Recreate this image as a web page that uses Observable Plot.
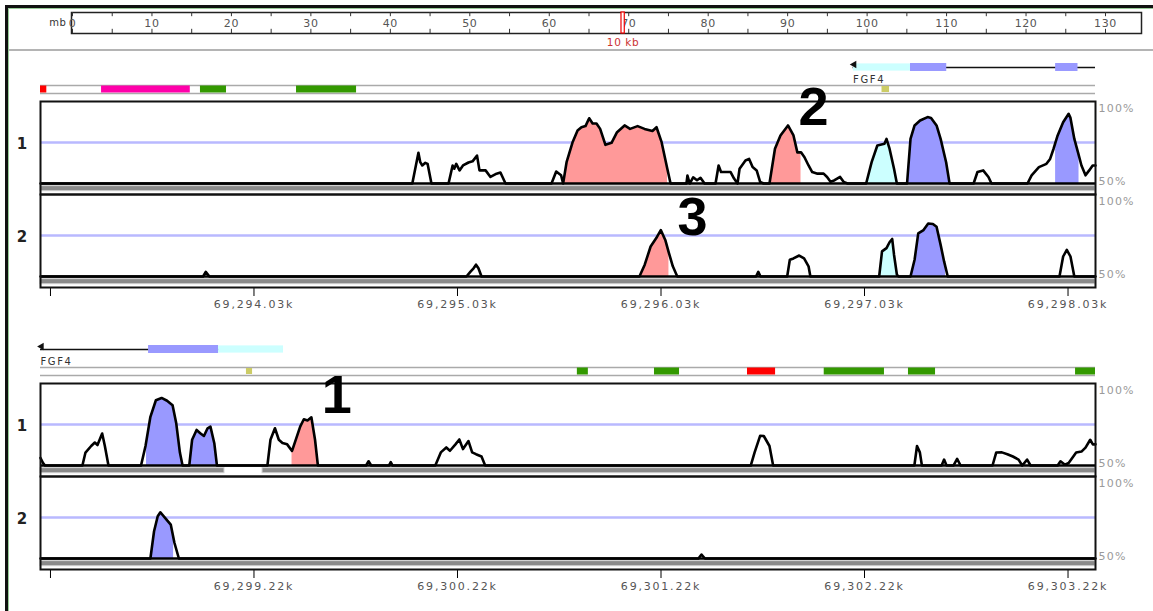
<!DOCTYPE html>
<html><head><meta charset="utf-8">
<script src="https://cdn.jsdelivr.net/npm/d3@7"></script>
<script src="https://cdn.jsdelivr.net/npm/@observablehq/plot@0.6"></script>
<style>
body{margin:0;background:#fff;}
#root{position:relative;width:1153px;height:611px;overflow:hidden;background:#fff;}
.bl{position:absolute;}
g[aria-label="x-axis tick"]{stroke:#666;}
g[aria-label="x-axis tick label"]{fill:#555;font-size:11px;letter-spacing:1.8px;}
</style></head><body><div id="root"></div>
<script>
// ---------- data ----------
const rulerMajor = [0,10,20,30,40,50,60,70,80,90,100,110,120,130];
const rulerMinor = [5,15,25,35,45,55,65,75,85,95,105,115,125];
const rulerMarkMb = 69.29;
const rulerMarkLabel = "10 kb";
const rulerUnit = "mb";

const sectionStart = [69292.981, 69298.171];   // kb at left edge of each window
const sectionSpan = 5.184;                       // kb shown per window
const axisTicks = [
  [69293.03, 69294.03, 69295.03, 69296.03, 69297.03, 69298.03],
  [69298.22, 69299.22, 69300.22, 69301.22, 69302.22, 69303.22]
];
const trackNames = ["1", "2"];
const pctLabels = [100, 50];

const geneName = "FGF4";
const geneSpan = [[3.993, 5.184], [0, 1.194]];   // kb offsets
const geneParts1 = [[3.995, 4.275, "utr"], [4.275, 4.453, "cds"], [4.988, 5.098, "cds"]];
const geneParts2 = [[0.531, 0.875, "cds"], [0.875, 1.194, "utr"]];

const bar1 = [[0, 0.031, "A"], [0.300, 0.736, "B"], [0.786, 0.914, "C"], [1.258, 1.553, "C"], [4.135, 4.172, "D"]];
const bar2 = [[1.012, 1.042, "D"], [2.638, 2.692, "C"], [3.017, 3.140, "C"], [3.474, 3.612, "A"], [3.851, 4.147, "C"], [4.265, 4.398, "C"], [5.086, 5.184, "C"]];

// conservation curves: [kb offset, % identity]
const s1t1 = [[0,50],[1.827,50],[1.857,68.7],[1.866,63],[1.876,61],[1.891,62.6],[1.902,62],[1.921,50],
[2.005,50],[2.025,61],[2.033,59],[2.043,62],[2.059,58],[2.076,61],[2.103,62.8],[2.123,63.5],[2.145,67],[2.157,58],[2.187,58],[2.211,54],[2.241,56],[2.260,56.7],[2.285,50],
[2.511,50],[2.534,57.3],[2.558,55],[2.568,50],[2.585,63],[2.614,75],[2.639,82.3],[2.658,84.3],[2.678,85],[2.696,89.8],[2.713,86.6],[2.732,86.6],[2.750,83.3],[2.776,73.6],[2.806,74.8],[2.833,81.3],[2.870,85.4],[2.897,83.3],[2.934,85],[2.968,83.3],[3.007,82],[3.027,84.3],[3.052,75.2],[3.080,59],[3.096,50],
[3.174,50],[3.179,54.9],[3.190,50],[3.207,53.8],[3.226,52],[3.243,53.5],[3.263,50],
[3.317,50],[3.332,61],[3.344,57],[3.363,57],[3.391,57],[3.408,53],[3.425,50],[3.435,59],[3.464,64],[3.482,65],[3.499,60],[3.519,58],[3.536,51],[3.553,50],
[3.582,50],[3.609,71.2],[3.636,79.3],[3.673,85.4],[3.700,79.3],[3.719,69],[3.737,69],[3.754,66],[3.774,61],[3.792,57],[3.818,56],[3.848,56],[3.865,54],[3.882,51],[3.902,52],[3.929,54],[3.946,51],[3.966,50],
[4.057,50],[4.084,63],[4.112,73.2],[4.147,74.2],[4.157,77.2],[4.172,71.2],[4.194,59],[4.208,50],
[4.258,50],[4.275,77.2],[4.295,85.4],[4.322,88.4],[4.359,90.5],[4.376,90],[4.403,85.4],[4.423,77.2],[4.450,63],[4.467,50],
[4.585,50],[4.604,57],[4.632,58],[4.658,54],[4.673,50],
[4.850,50],[4.870,55],[4.906,60],[4.943,62],[4.961,65],[4.978,71.2],[4.998,79.3],[5.025,87.4],[5.052,92.5],[5.061,90],[5.080,77.2],[5.098,69],[5.115,61],[5.135,55],[5.153,58],[5.170,61],[5.184,61]];
const s1t2 = [[0,50],[0.799,50],[0.812,52.8],[0.830,50],
[2.093,50],[2.113,53],[2.128,55],[2.140,57.2],[2.152,55],[2.167,50],
[2.943,50],[2.969,57.2],[2.998,68.3],[3.025,73.3],[3.048,78.3],[3.070,72.3],[3.088,64.3],[3.107,56.2],[3.129,50],
[3.516,50],[3.527,52.8],[3.538,50],
[3.669,50],[3.682,60.2],[3.700,61],[3.728,62.8],[3.752,61],[3.774,56.2],[3.783,50],
[4.121,50],[4.135,65.3],[4.157,67.3],[4.172,70.9],[4.185,72.9],[4.194,63.3],[4.208,51.2],[4.216,50],
[4.275,50],[4.295,60.2],[4.313,76.3],[4.339,78.3],[4.362,82.3],[4.385,82],[4.403,80.3],[4.423,69.3],[4.440,59.2],[4.458,50],
[5.007,50],[5.025,62.2],[5.043,66.3],[5.061,62.2],[5.080,50],[5.184,50]];
const s2t1 = [[0,54.6],[0.012,51.6],[0.022,50],
[0.206,50],[0.221,57.9],[0.249,61.9],[0.267,64],[0.280,62.5],[0.303,69.5],[0.316,62],[0.334,50],
[0.494,50],[0.516,61.9],[0.540,79.7],[0.567,89.8],[0.595,91.2],[0.622,89.5],[0.649,86.7],[0.667,75.7],[0.685,57.9],[0.698,50],
[0.731,50],[0.745,65.7],[0.767,71.7],[0.785,69.7],[0.803,68],[0.821,72.7],[0.835,73.7],[0.854,63.6],[0.867,50],
[1.115,50],[1.130,65.7],[1.152,72.7],[1.171,65.7],[1.189,63.7],[1.212,62.9],[1.236,58.9],[1.276,73.7],[1.294,78.2],[1.312,77.5],[1.331,79.4],[1.349,65.7],[1.363,50],
[1.600,50],[1.612,52.6],[1.625,50],
[1.712,50],[1.721,52],[1.730,50],
[1.940,50],[1.967,58],[1.994,61],[2.012,59],[2.039,62.9],[2.058,65.9],[2.076,60],[2.103,64.9],[2.121,58],[2.140,56.9],[2.167,55.5],[2.185,50],
[3.490,50],[3.509,58],[3.536,68.1],[3.554,68],[3.582,61.9],[3.600,50],
[4.294,50],[4.307,61.9],[4.321,58],[4.331,50],
[4.428,50],[4.440,53.6],[4.452,50],
[4.486,50],[4.504,54],[4.521,50],
[4.678,50],[4.696,57.9],[4.724,58],[4.751,56.9],[4.778,55.5],[4.806,53.6],[4.824,50],[4.848,53.6],[4.865,50],
[4.998,50],[5.012,52.6],[5.034,50.5],[5.052,51.5],[5.089,57.9],[5.115,58.5],[5.135,60.9],[5.158,65.7],[5.171,62.9],[5.184,62.9]];
const s2t2 = [[0,50],[0.540,50],[0.558,66.6],[0.576,75.8],[0.589,78.2],[0.612,74.8],[0.640,70.7],[0.658,59.6],[0.680,50],[3.233,50],[3.248,52.4],[3.265,50],[5.184,50]];

// conserved regions: [from, to, kind]
const f1t1 = [[2.568,3.081,"cns"],[3.582,3.737,"cns"],[4.057,4.211,"utr"],[4.263,4.467,"exon"],[4.988,5.103,"exon"]];
const f1t2 = [[2.951,3.088,"cns"],[4.123,4.211,"utr"],[4.285,4.447,"exon"]];
const f2t1 = [[0.521,0.698,"exon"],[0.731,0.872,"exon"],[1.236,1.364,"cns"]];
const f2t2 = [[0.540,0.654,"exon"]];

// aligned coverage under each track: [from, to]
const cov1t1 = [[0, 5.184]], cov1t2 = [[0, 5.184]];
const cov2t1 = [[0, 0.904], [1.091, 5.184]], cov2t2 = [[0, 5.184]];

// numbered call-outs
const calloutLabel = ["2", "3", "1"];
const calloutSection = [0, 0, 1];
const calloutTrack = ["1", "2", "1"];
const calloutPos = [3.801, 3.207, 1.459];
const calloutPct = [96, 85.8, 92.8];

// ---------- drawing ----------
const W = 1153;
const root = document.getElementById("root");
const kindColor = {cns: "#ff9999", exon: "#9999ff", utr: "#ccffff", cds: "#9999ff"};
const barColor = {A: "#ff0000", B: "#ff00aa", C: "#339900", D: "#cccc66"};

function place(svg, top, spacing) {
  svg.style.position = "absolute";
  svg.style.left = "0px";
  svg.style.top = top + "px";
  svg.style.overflow = "visible";
  svg.style.background = "none";
  svg.style.maxWidth = "none";
  svg.style.fontFamily = "'DejaVu Sans', sans-serif";
  if (spacing) svg.style.letterSpacing = spacing;
  root.appendChild(svg);
}
function div(l, t, w, h, c) {
  const d = document.createElement("div");
  d.className = "bl";
  Object.assign(d.style, {left: l + "px", top: t + "px", width: w + "px", height: h + "px", background: c});
  root.appendChild(d);
}

// outer frame
div(5, 5, 1148, 3, "#111");
div(8, 8, 1145, 1, "#9c9");
div(5, 5, 3, 606, "#111");
div(8, 8, 1, 603, "#9c9");
div(9, 49, 1144, 2, "#b4b4b4");

// ruler
const allTicks = rulerMajor.concat(rulerMinor);
const ruler = Plot.plot({
  width: W, height: 50, marginLeft: 71, marginRight: 12, marginTop: 12, marginBottom: 17,
  x: {domain: [0, 130], range: [72, 1105], axis: null},
  y: {domain: [0, 1], axis: null},
  marks: [
    Plot.frame({stroke: "#222", strokeWidth: 1.5}),
    Plot.ruleX(allTicks, {x: d => d, y1: 1, y2: 0.8, stroke: "#333"}),
    Plot.ruleX(allTicks, {x: d => d, y1: 0, y2: 0.2, stroke: "#333"}),
    Plot.text(rulerMajor, {x: d => d, y: 0.5, text: d => String(d), fontSize: 11, fill: "#555"}),
    Plot.text([rulerUnit], {frameAnchor: "left", y: 0.5, dx: -5, textAnchor: "end", text: d => d, fontSize: 10, fill: "#333"}),
    Plot.rect([rulerMarkMb], {x1: d => d, x2: d => d + 0.01, y1: 0, y2: 1, fill: "white", stroke: "#e00", strokeWidth: 1.2, insetLeft: -1.6, insetRight: -1.6}),
    Plot.text([rulerMarkMb], {x: d => d, y: -0.45, text: () => rulerMarkLabel, fill: "#c33", fontSize: 10.5})
  ]
});
place(ruler, 0, "0.6px");

function clipCurve(pts, a, b) {
  const at = x => {
    for (let k = 1; k < pts.length; k++) {
      const [x0, y0] = pts[k - 1], [x1, y1] = pts[k];
      if (x >= x0 && x <= x1) return x1 === x0 ? y1 : y0 + (y1 - y0) * (x - x0) / (x1 - x0);
    }
    return 50;
  };
  const out = [[a, at(a)]];
  for (const p of pts) if (p[0] > a && p[0] < b) out.push(p);
  out.push([b, at(b)]);
  return out;
}

const curves = [{"1": s1t1, "2": s1t2}, {"1": s2t1, "2": s2t2}];
const fills = [{"1": f1t1, "2": f1t2}, {"1": f2t1, "2": f2t2}];
const covs = [{"1": cov1t1, "2": cov1t2}, {"1": cov2t1, "2": cov2t2}];
const geneParts = [geneParts1, geneParts2];
const bars = [bar1, bar2];

function drawSection(i, off) {
  const s0 = sectionStart[i];
  const xdom = [s0, s0 + sectionSpan];

  // gene model
  const g = {from: s0 + geneSpan[i][0], to: s0 + geneSpan[i][1], name: geneName};
  const gene = Plot.plot({
    width: W, height: 30, marginLeft: 40, marginRight: 58, marginTop: 0, marginBottom: 0,
    x: {domain: xdom, range: [40, 1095], axis: null},
    y: {domain: [0, 1], axis: null},
    color: {type: "identity"},
    marks: [
      Plot.ruleY([g], {x1: "from", x2: "to", y: 0.6, stroke: "#111", strokeWidth: 1.5}),
      Plot.rect(geneParts[i], {x1: d => s0 + d[0], x2: d => s0 + d[1], y1: d => d[2] === "utr" ? 0.48 : 0.467, y2: d => d[2] === "utr" ? 0.72 : 0.733, fill: d => kindColor[d[2]]}),
      Plot.dot([g], {x: "from", y: 0.7, symbol: "triangle", r: 2.8, rotate: -90, fill: "#111", stroke: null, dx: 1}),
      Plot.text([g], {x: "from", y: 0.2, text: "name", textAnchor: "start", fontSize: 10, fill: "#333"})
    ]
  });
  place(gene, 55 + off, "1.6px");

  // annotation bar
  const bar = Plot.plot({
    width: W, height: 10, marginLeft: 40, marginRight: 58, marginTop: 0, marginBottom: 0,
    x: {domain: xdom, range: [40, 1095], axis: null},
    y: {domain: [0, 1], axis: null},
    color: {type: "identity"},
    marks: [
      Plot.ruleY([0.1, 0.9], {y: d => d, stroke: "#aaa", strokeWidth: 1.5}),
      Plot.rect(bars[i], {x1: d => s0 + d[0], x2: d => s0 + d[1], y1: d => d[2] === "D" ? 0.2 : 0.15, y2: d => d[2] === "D" ? 0.8 : 0.85, fill: d => barColor[d[2]]})
    ]
  });
  place(bar, 84 + off);

  // conservation panels
  const rows = [], fillRows = [], covRows = [];
  for (const t of trackNames) {
    for (const [o, p] of curves[i][t]) rows.push({track: t, pos: s0 + o, pct: p});
    fills[i][t].forEach(([a, b, kind], k) => {
      for (const [o, p] of clipCurve(curves[i][t], a, b)) fillRows.push({track: t, id: t + "-" + k, pos: s0 + o, pct: p, color: kindColor[kind]});
    });
    for (const [a, b] of covs[i][t]) covRows.push({track: t, a: s0 + a, b: s0 + b});
  }
  const callouts = calloutLabel.map((label, k) => ({label, sec: calloutSection[k], track: calloutTrack[k], pos: s0 + calloutPos[k], pct: calloutPct[k]})).filter(d => d.sec === i);
  const fmt = d3.format(",.2f");
  const panel = Plot.plot({
    width: W, height: 216, marginLeft: 40, marginRight: 58, marginTop: 0, marginBottom: 30,
    x: {domain: xdom, range: [40, 1095], ticks: axisTicks[i], tickFormat: d => d === axisTicks[i][0] ? "" : fmt(d) + "k", tickSize: 9, tickPadding: 4, label: null},
    y: {domain: [43.3, 100], axis: null},
    fy: {domain: trackNames, padding: 0, axis: null},
    color: {type: "identity"},
    marks: [
      Plot.ruleY([75], {y: d => d, stroke: "#b9b9ff", strokeWidth: 2.5}),
      Plot.rect(covRows, {fy: "track", x1: "a", x2: "b", y1: 45.3, y2: 48.4, fill: "#8a8a8a", stroke: "#d0d0d0", strokeWidth: 1}),
      Plot.areaY(fillRows, {fy: "track", x: "pos", y1: 50, y2: "pct", z: "id", fill: "color"}),
      Plot.line(rows, {fy: "track", x: "pos", y: "pct", stroke: "#000", strokeWidth: 2.6, strokeLinejoin: "round"}),
      Plot.ruleY([50], {y: d => d, stroke: "#000", strokeWidth: 2.5}),
      Plot.frame({stroke: "#111", strokeWidth: 2}),
      Plot.text([pctLabels[0]], {y: d => d, frameAnchor: "right", textAnchor: "start", lineAnchor: "top", dx: 3, dy: 3, text: d => d + "%", fill: "#9a9a9a", fontSize: 11}),
      Plot.text([pctLabels[1]], {y: d => d, frameAnchor: "right", textAnchor: "start", lineAnchor: "bottom", dx: 3, dy: 1, text: d => d + "%", fill: "#9a9a9a", fontSize: 11}),
      Plot.text(trackNames, {fy: d => d, y: 75, frameAnchor: "left", textAnchor: "middle", dx: -18, dy: 2, text: d => d, fontSize: 15, fontWeight: "bold", fill: "#222"}),
      Plot.text(callouts, {fy: "track", x: "pos", y: "pct", text: "label", fontSize: 54, fontWeight: "bold", fontFamily: "'Liberation Sans Narrow', 'Liberation Sans', sans-serif", fill: "#000"})
    ]
  });
  place(panel, 101 + off, "1.2px");
}

drawSection(0, 0);
drawSection(1, 282);
</script></body></html>
